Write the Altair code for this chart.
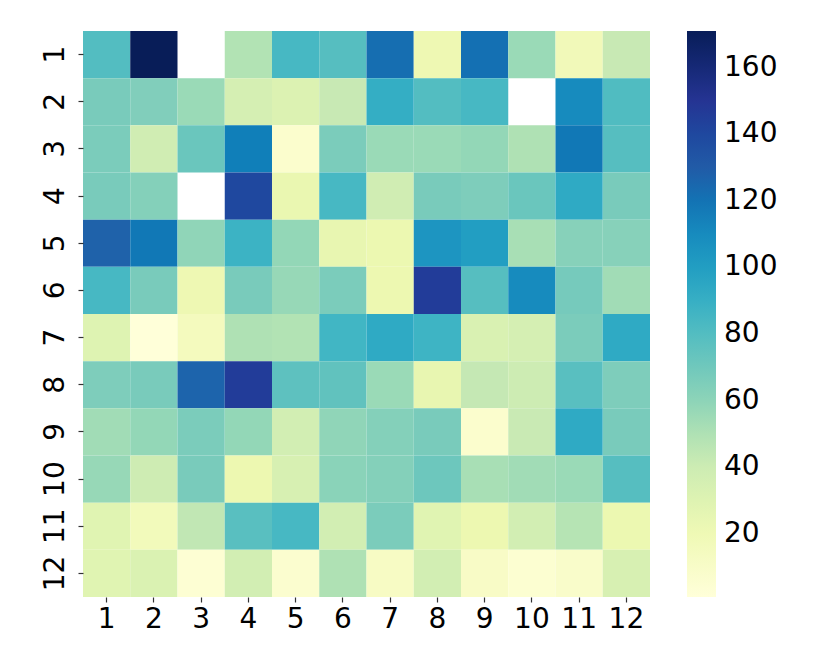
import altair as alt
import pandas as pd

rows = [str(i) for i in range(1, 13)]
cols = [str(i) for i in range(1, 13)]
N = None
values = [
    [80, 171, N, 49, 84, 79, 122, 21, 121, 56, 18, 43],
    [67, 64, 56, 35, 31, 43, 91, 80, 84, N, 110, 81],
    [66, 38, 72, 115, 7, 66, 56, 56, 58, 50, 118, 79],
    [67, 63, N, 140, 24, 84, 38, 67, 65, 72, 93, 67],
    [127, 118, 59, 88, 58, 25, 23, 105, 100, 52, 62, 62],
    [84, 67, 21, 67, 57, 66, 22, 146, 79, 110, 68, 54],
    [30, 1, 15, 50, 49, 86, 93, 87, 33, 35, 66, 93],
    [65, 67, 126, 146, 76, 75, 56, 25, 44, 40, 78, 65],
    [54, 58, 66, 58, 37, 59, 63, 67, 7, 42, 93, 67],
    [57, 39, 67, 22, 34, 61, 63, 71, 52, 54, 56, 79],
    [29, 17, 45, 78, 84, 37, 66, 29, 22, 37, 48, 23],
    [29, 32, 4, 37, 6, 50, 12, 37, 11, 5, 9, 34],
]
legend_ticks = [20, 40, 60, 80, 100, 120, 140, 160]
palette = ["#ffffd9", "#edf8b1", "#c7e9b4", "#7fcdbb", "#41b6c4",
           "#1d91c0", "#225ea8", "#253494", "#081d58"]

records = []
for ri, r in enumerate(rows):
    for ci, c in enumerate(cols):
        v = values[ri][ci]
        if v is not None:
            records.append({"row": r, "col": c, "value": v})
df = pd.DataFrame(records)

vmin = min(df["value"])
vmax = max(df["value"])
stops = [vmin + (vmax - vmin) * i / (len(palette) - 1) for i in range(len(palette))]

font = "DejaVu Sans"
chart = alt.Chart(df).mark_rect(strokeWidth=0).encode(
    x=alt.X("col:O", sort=cols, title=None,
            scale=alt.Scale(paddingInner=0, paddingOuter=0),
            axis=alt.Axis(labelAngle=0, labelFontSize=28, labelFont=font,
                          labelColor="black", domain=False, tickSize=5,
                          tickColor="#333333", tickWidth=1.2, labelPadding=3)),
    y=alt.Y("row:O", sort=rows, title=None,
            scale=alt.Scale(paddingInner=0, paddingOuter=0),
            axis=alt.Axis(labelAngle=270, labelFontSize=28, labelFont=font,
                          labelColor="black", domain=False, tickSize=5,
                          tickColor="#333333", tickWidth=1.2, labelPadding=9,
                          labelAlign="center", labelBaseline="bottom")),
    color=alt.Color("value:Q", title=None,
                    scale=alt.Scale(domain=stops, range=palette),
                    legend=alt.Legend(values=legend_ticks, gradientLength=566,
                                      gradientThickness=29, labelFontSize=28,
                                      labelFont=font, labelColor="black",
                                      labelOffset=8, offset=37, padding=0,
                                      gradientStrokeWidth=0)),
).properties(
    width=567, height=566,
    autosize=alt.AutoSizeParams(type="none"),
    padding={"left": 75, "top": 23, "right": 160, "bottom": 55},
).configure_view(strokeWidth=0)

chart.save("out.html", embed_options={"renderer": "svg", "actions": False})
